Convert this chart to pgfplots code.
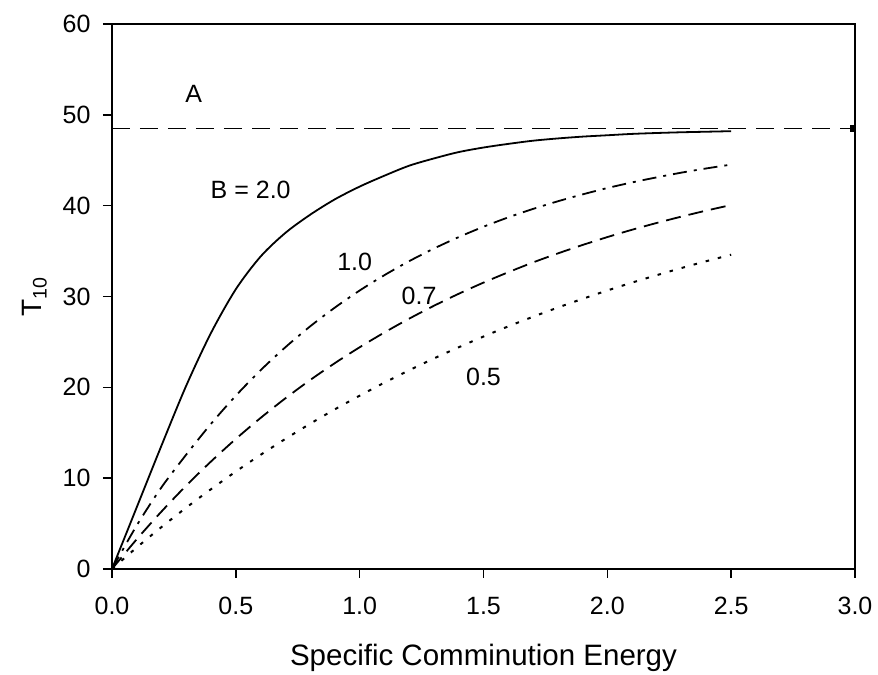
\documentclass[border=0pt]{standalone}
\usepackage{fontspec}
\setmainfont{Liberation Sans}
\usepackage{pgfplots}
\pgfplotsset{compat=1.18}
\begin{document}
\begin{tikzpicture}
\begin{axis}[
  scale only axis,
  width=743pt, height=545pt,
  xmin=0, xmax=3, ymin=0, ymax=60,
  xtick={0,0.5,...,3.0}, ytick={0,10,...,60},
  /pgf/number format/assume math mode=true,
  tick label style={font=\fontsize{25}{29}\selectfont},
  xticklabel style={/pgf/number format/fixed, /pgf/number format/fixed zerofill, /pgf/number format/precision=1, yshift=-16pt},
  yticklabel style={xshift=-9pt},
  tick align=outside, xtick pos=left, ytick pos=left,
  major tick length=9pt,
  every tick/.style={black, line width=1.6pt},
  axis line style={line width=1.6pt},
  xlabel={Specific Comminution Energy},
  ylabel={T\textsubscript{10}},
  xlabel style={font=\fontsize{29.5}{34}\selectfont, yshift=-22pt},
  ylabel style={font=\fontsize{28}{32}\selectfont, yshift=9pt},
  clip=false,
]
% A line
\addplot[black, line width=1.6pt, dash pattern=on 18pt off 10pt] coordinates {(0,48.5) (3,48.5)};
\addplot[only marks, mark=square*, mark size=2.8pt, black] coordinates {(2.99,48.5)};
% B = 2.0
\addplot[black, line width=1.8pt, smooth] coordinates {
(0,0) (0.1,6.8) (0.2,13.6) (0.3,20.2) (0.4,26.0) (0.5,30.8) (0.6,34.4) (0.7,37.0) (0.8,39.0) (0.9,40.7) (1.0,42.1) (1.1,43.3) (1.2,44.4) (1.3,45.2) (1.4,45.9) (1.5,46.4) (1.6,46.8) (1.7,47.15) (1.8,47.4) (1.9,47.6) (2.0,47.75) (2.1,47.9) (2.2,48.0) (2.3,48.08) (2.4,48.14) (2.5,48.2)};
% B = 1.0
\addplot[black, line width=1.8pt, smooth, dash pattern=on 14pt off 7pt on 3pt off 7pt] coordinates {
(0,0) (0.1,4.8) (0.2,9.0) (0.3,12.6) (0.4,15.99) (0.5,19.08) (0.6,21.88) (0.7,24.41) (0.8,26.71) (0.9,28.78) (1.0,30.66) (1.1,32.35) (1.2,33.89) (1.3,35.28) (1.4,36.54) (1.5,37.68) (1.6,38.71) (1.7,39.64) (1.8,40.48) (1.9,41.24) (2.0,41.94) (2.1,42.56) (2.2,43.12) (2.3,43.64) (2.4,44.10) (2.5,44.52)};
% B = 0.7
\addplot[black, line width=1.8pt, smooth, dash pattern=on 15pt off 8pt] coordinates {
(0,0) (0.1,3.28) (0.2,6.33) (0.3,9.19) (0.4,11.84) (0.5,14.32) (0.6,16.63) (0.7,18.79) (0.8,20.80) (0.9,22.67) (1.0,24.41) (1.1,26.04) (1.2,27.56) (1.3,28.98) (1.4,30.30) (1.5,31.53) (1.6,32.67) (1.7,33.75) (1.8,34.74) (1.9,35.67) (2.0,36.54) (2.1,37.35) (2.2,38.10) (2.3,38.80) (2.4,39.46) (2.5,40.07)};
% B = 0.5
\addplot[black, line width=2pt, smooth, dash pattern=on 3.5pt off 9pt] coordinates {
(0,0) (0.1,2.37) (0.2,4.62) (0.3,6.76) (0.4,8.79) (0.5,10.73) (0.6,12.57) (0.7,14.32) (0.8,15.99) (0.9,17.58) (1.0,19.08) (1.1,20.52) (1.2,21.88) (1.3,23.18) (1.4,24.41) (1.5,25.59) (1.6,26.71) (1.7,27.77) (1.8,28.78) (1.9,29.74) (2.0,30.66) (2.1,31.53) (2.2,32.35) (2.3,33.14) (2.4,33.89) (2.5,34.60)};
\begin{scope}[every node/.style={font=\fontsize{25}{29}\selectfont}]
\node at (axis cs:0.33,52.3) {A};
\node at (axis cs:0.56,41.7) {B = 2.0};
\node at (axis cs:0.98,33.8) {1.0};
\node at (axis cs:1.24,30.1) {0.7};
\node at (axis cs:1.50,21.1) {0.5};
\end{scope}
\end{axis}
\path ([xshift=-112pt,yshift=-102pt]current axis.south west) rectangle ([xshift=23pt,yshift=24pt]current axis.north east);
\end{tikzpicture}
\end{document}
